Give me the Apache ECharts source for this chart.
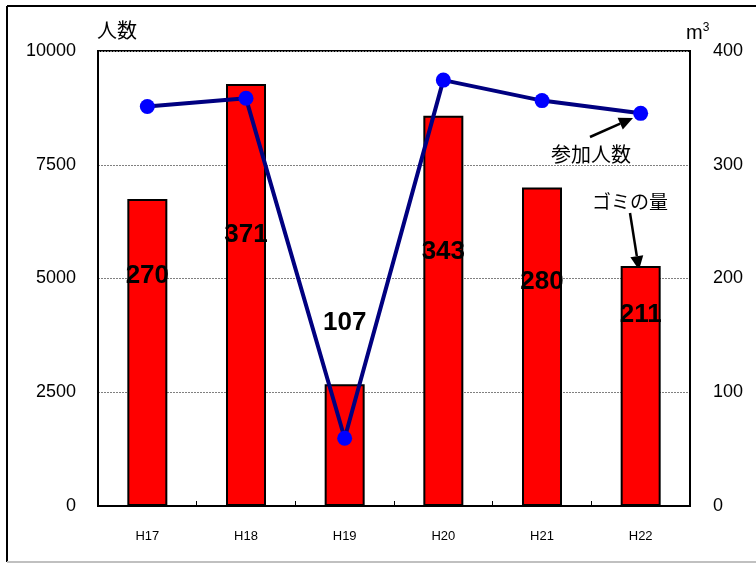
<!DOCTYPE html>
<html>
<head>
<meta charset="utf-8">
<script src="https://cdn.jsdelivr.net/npm/echarts@6/dist/echarts.min.js"></script>
<style>
html,body{margin:0;padding:0;background:#fff;}
#c{width:756px;height:563px;}
</style>
</head>
<body>
<div id="c"></div>
<script>
const categories = ['H17','H18','H19','H20','H21','H22'];
const garbageM3 = [270, 371, 107, 343, 280, 211];
const participants = [8780, 8960, 1490, 9360, 8910, 8630];
const leftTicks = [0, 2500, 5000, 7500, 10000];
const rightTicks = [0, 100, 200, 300, 400];

// label vertical offsets (px) relative to bar top – layout only
const barLabelDy = [77, 151, -61, 136, 94, 49];

const FONT = '"Liberation Sans", "Noto Sans CJK JP", sans-serif';

function arrow(x1, y1, x2, y2) {
  const dx = x2 - x1, dy = y2 - y1, L = Math.hypot(dx, dy);
  const ux = dx / L, uy = dy / L, nx = -uy, ny = ux;
  const hl = 14, hw = 6.5;
  const bx = x2 - ux * hl, by = y2 - uy * hl;
  return [
    {type:'line', shape:{x1:x1, y1:y1, x2:bx, y2:by}, style:{stroke:'#000', lineWidth:2.5}},
    {type:'polygon', shape:{points:[[x2,y2],[bx+nx*hw,by+ny*hw],[bx-nx*hw,by-ny*hw]]}, style:{fill:'#000'}}
  ];
}

const chart = echarts.init(document.getElementById('c'), null, {renderer:'canvas'});
chart.setOption({
  backgroundColor: '#fff',
  animation: false,
  textStyle: {fontFamily: FONT},
  grid: {left: 98, right: 66, top: 51, bottom: 57, show: true, borderColor: '#000', borderWidth: 2, backgroundColor: 'transparent'},
  xAxis: {
    type: 'category',
    data: categories,
    boundaryGap: true,
    axisLine: {lineStyle: {color: '#000', width: 2}},
    axisTick: {show: true, inside: true, length: 5, lineStyle: {color: '#000', width: 1}},
    axisLabel: {color: '#000', fontSize: 13, margin: 24}
  },
  yAxis: [
    {
      type: 'value', min: leftTicks[0], max: leftTicks[leftTicks.length-1], interval: 2500,
      position: 'left',
      axisLine: {show: true, lineStyle: {color: '#000', width: 2}},
      axisTick: {show: false},
      axisLabel: {color: '#000', fontSize: 18, margin: 22, formatter: v => String(v)},
      splitLine: {show: true, lineStyle: {color: '#808080', width: 1, type: [2, 1]}}
    },
    {
      type: 'value', min: rightTicks[0], max: rightTicks[rightTicks.length-1], interval: 100,
      position: 'right',
      axisLine: {show: true, lineStyle: {color: '#000', width: 2}},
      axisTick: {show: false},
      axisLabel: {color: '#000', fontSize: 18, margin: 23, formatter: v => String(v)},
      splitLine: {show: false}
    }
  ],
  series: [
    {
      type: 'bar',
      yAxisIndex: 1,
      barWidth: 40,
      z: 2,
      itemStyle: {color: '#ff0000', borderColor: '#000', borderWidth: 2},
      data: garbageM3.map((v, i) => ({
        value: v,
        label: {position: ['50%', barLabelDy[i]]}
      })),
      label: {
        show: true,
        align: 'center',
        verticalAlign: 'middle',
        color: '#000',
        fontSize: 26,
        fontWeight: 'bold',
        fontFamily: FONT
      }
    },
    {
      type: 'line',
      yAxisIndex: 0,
      z: 5,
      data: participants,
      symbol: 'circle',
      symbolSize: 15,
      lineStyle: {color: '#000080', width: 4},
      itemStyle: {color: '#0000ff'}
    }
  ],
  graphic: [
    {type:'line', shape:{x1:7, y1:6, x2:756, y2:6}, style:{stroke:'#000', lineWidth:2}},
    {type:'line', shape:{x1:7, y1:6, x2:7, y2:562}, style:{stroke:'#000', lineWidth:2}},
    {type:'line', shape:{x1:7, y1:562, x2:756, y2:562}, style:{stroke:'#c0c0c0', lineWidth:2}},
    {type:'text', left: 97, top: 20, style:{text:'人数', fill:'#000', font: '20px "Noto Sans CJK JP"'}},
    {type:'text', left: 686, top: 22, style:{
      text:'{a|m}{b|3}',
      rich:{a:{fontSize:20, fontFamily: FONT, color:'#000'}, b:{fontSize:12, fontFamily: FONT, color:'#000', verticalAlign:'top', padding:[0,0,10,0]}}
    }},
    {type:'text', left: 551, top: 144, style:{text:'参加人数', font:'20px "Noto Sans CJK JP"', fill:'#000'}},
    {type:'text', left: 592, top: 192, style:{text:'ゴミの量', font:'19px "Noto Sans CJK JP"', fill:'#000'}},
    ...arrow(590, 137, 633, 118),
    ...arrow(630, 213, 639, 270)
  ]
});
</script>
</body>
</html>
